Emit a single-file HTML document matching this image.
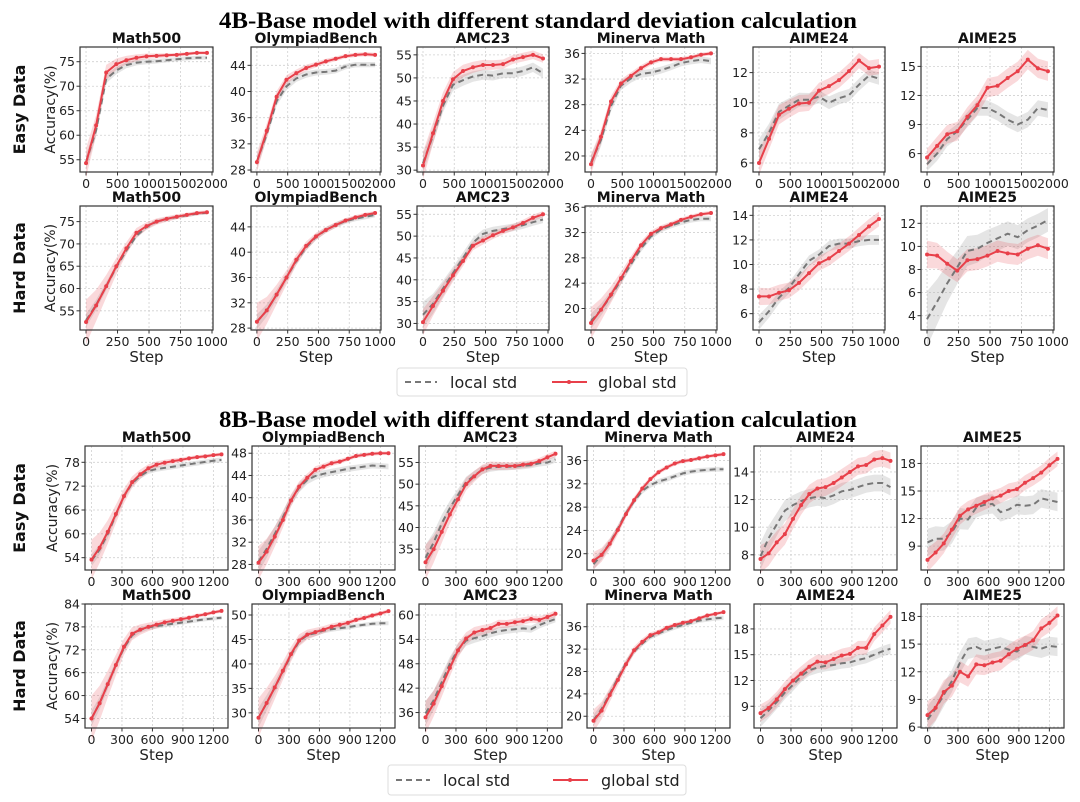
<!DOCTYPE html>
<html><head><meta charset="utf-8"><style>
html,body{margin:0;padding:0;background:#fff;}
svg{display:block;font-family:"DejaVu Sans","Liberation Sans",sans-serif;}
</style></head><body>
<svg id="fig" width="1080" height="802" viewBox="0 0 1080 802" xmlns="http://www.w3.org/2000/svg">
<text x="538" y="28" text-anchor="middle" font-family="Liberation Serif, serif" font-weight="bold" font-size="23" textLength="638" lengthAdjust="spacingAndGlyphs">4B-Base model with different standard deviation calculation</text>
<text x="538" y="427" text-anchor="middle" font-family="Liberation Serif, serif" font-weight="bold" font-size="23" textLength="638" lengthAdjust="spacingAndGlyphs">8B-Base model with different standard deviation calculation</text>
<g>
<rect x="397" y="368" width="290" height="28" rx="3" fill="#fff" stroke="#ddd"/>
<line x1="405" y1="382" x2="437" y2="382" stroke="#777" stroke-width="2" stroke-dasharray="6,4"/>
<text x="450" y="388" font-size="16" fill="#222">local std</text>
<line x1="552" y1="382" x2="587" y2="382" stroke="#e8404a" stroke-width="2"/>
<circle cx="569" cy="382" r="2" fill="#e8404a"/>
<text x="598" y="388" font-size="16" fill="#222">global std</text>
</g>
<g>
<rect x="388" y="765" width="298" height="30" rx="3" fill="#fff" stroke="#ddd"/>
<line x1="396" y1="780" x2="430" y2="780" stroke="#777" stroke-width="2" stroke-dasharray="6,4"/>
<text x="443" y="786" font-size="16" fill="#222">local std</text>
<line x1="553" y1="780" x2="588" y2="780" stroke="#e8404a" stroke-width="2"/>
<circle cx="570" cy="780" r="2" fill="#e8404a"/>
<text x="601" y="786" font-size="16" fill="#222">global std</text>
</g>
</svg>
<script>
// ---- steps ----
const steps4E = [0,160,320,480,640,800,960,1120,1280,1440,1600,1760,1920];
const steps4H = [0,80,160,240,320,400,480,560,640,720,800,880,960];
const steps8 = [0,80,160,240,320,400,480,560,640,720,800,880,960,1040,1120,1200,1280];
const xticks4E = [0,500,1000,1500,2000];
const xticks4H = [0,250,500,750,1000];
const xticks8 = [0,300,600,900,1200];
const titles = ["Math500","OlympiadBench","AMC23","Minerva Math","AIME24","AIME25"];

// ---- 4B easy ----
const e4MathG = [54.3,62,72.8,74.5,75.3,75.8,76.1,76.2,76.3,76.4,76.6,76.8,76.8];
const e4MathL = [54.5,61,71.5,73.2,74.3,74.8,75,75.1,75.3,75.5,75.7,75.8,75.8];
const e4OlyG = [29.2,34,39.2,41.8,42.8,43.6,44.1,44.6,45.0,45.4,45.6,45.7,45.6];
const e4OlyL = [29.3,33.5,38.5,40.8,42,42.6,42.9,43,43.2,43.8,44.1,44.1,44.1];
const e4AmcG = [31,38,45,49.7,51.5,52.3,52.8,52.8,53,54,54.5,55,54.2];
const e4AmcL = [31.5,37.5,44,48.5,49.5,50.3,50.7,50.5,51,51,51.5,52.3,51];
const e4MinG = [18.7,23,28.5,31.3,32.5,33.7,34.6,35.1,35.1,35.1,35.4,35.8,36];
const e4MinL = [19,22.5,27.8,31,32.1,32.8,33,33.4,33.9,34.5,34.8,35,34.8];
const e4A24G = [6,7.6,9.2,9.6,9.95,10,10.8,11.1,11.5,12.1,12.8,12.3,12.4];
const e4A24L = [6.9,8,9.4,9.8,10.2,10.2,10.4,10.0,10.3,10.5,11.2,11.8,11.6];
const e4A25G = [5.6,6.8,8,8.3,9.8,11,12.8,13,13.8,14.5,15.7,14.8,14.5];
const e4A25L = [4.9,6,7.5,8.3,9.5,10.7,10.7,10.2,9.5,9,9.5,10.7,10.5];
// ---- 4B hard ----
const h4MathG = [52.5,56.2,60.5,65,69,72.5,74,75,75.6,76.1,76.5,76.9,77.1];
const h4MathL = [52.8,56.3,60.5,64.8,68.5,71.8,73.8,75,75.6,76,76.4,76.8,77];
const h4OlyG = [29,30.8,33.3,36,38.8,41,42.5,43.5,44.3,45,45.5,45.9,46.2];
const h4OlyL = [29,30.8,33.3,36,38.6,40.8,42.4,43.5,44.3,44.9,45.3,45.6,45.9];
const h4AmcG = [30.3,34,37.5,41,44.3,47.8,49,50.2,51.2,52,53,54.2,55];
const h4AmcL = [32,34.5,38,41.5,45,48.5,50.5,51.2,51.6,52,52.5,53.2,53.8];
const h4MinG = [17.7,19.8,22.2,24.8,27.5,30,31.8,32.7,33.3,34,34.5,34.9,35.1];
const h4MinL = [18,19.8,22,24.5,27,29.5,31.4,32.5,33.1,33.6,34,34.2,34.2];
const h4A24G = [7.4,7.4,7.7,7.9,8.5,9.3,10.1,10.5,11.1,11.7,12.4,13.1,13.7];
const h4A24L = [5.3,6.2,7.3,8.1,9.2,10.3,10.8,11.5,11.7,11.7,11.9,12,12];
const h4A25G = [9.3,9.2,8.5,7.9,8.8,8.9,9.2,9.6,9.4,9.3,9.8,10.1,9.8];
const h4A25L = [3.7,5.2,6.8,8.2,9.6,9.8,10.3,10.7,11.1,10.8,11.4,11.8,12.3];
// ---- 8B easy ----
const e8MathG = [53.5,56.5,60.5,65,69.5,73,75,76.5,77.4,77.9,78.3,78.6,79,79.3,79.5,79.8,80];
const e8MathL = [53.3,56,60,64.8,69.5,72.7,74.6,75.8,76.3,76.6,76.9,77.2,77.5,77.8,78.1,78.4,78.6];
const e8OlyG = [28.3,30.3,33,36,39.5,42,43.6,45,45.6,46.2,46.5,47,47.5,47.7,47.9,48,48];
const e8OlyL = [28.5,30.8,33.5,36.5,39.5,41.8,43.2,43.9,44.3,44.6,44.9,45.2,45.4,45.6,45.8,45.7,45.6];
const e8AmcG = [32,35,39,43,46.5,50,51.8,53.4,54.2,54.2,54.2,54.2,54.5,54.7,55.3,56.2,57];
const e8AmcL = [33,36.5,41,44.5,47.5,50.5,52,53.3,53.8,54,54,54.1,54.2,54.4,54.8,55,55.7];
const e8MinG = [18.8,19.8,21.7,24.1,26.8,29.2,31.2,32.8,34,34.8,35.5,35.9,36.1,36.4,36.7,36.9,37.1];
const e8MinL = [18.2,19.8,21.8,24.3,27,29,30.8,31.8,32.4,32.8,33.3,33.8,34.1,34.3,34.4,34.5,34.5];
const e8A24G = [7.7,8.1,8.9,9.5,10.6,11.6,12.4,12.8,12.9,13.2,13.6,14,14.4,14.5,14.9,15.0,14.8];
const e8A24L = [7.9,9.2,10.2,11.2,11.6,11.9,12.1,12.2,12.1,12.3,12.6,12.7,12.9,13.1,13.2,13.2,12.9];
const e8A25G = [7.5,8.3,9.3,10.8,12.3,13,13.4,13.8,14.2,14.5,15,15.2,15.9,16.4,17,17.8,18.5];
const e8A25L = [9.4,9.8,9.8,10.5,12,11.9,13.2,13.5,13.6,12.7,13,13.5,13.4,13.5,14.2,14,13.8];
// ---- 8B hard ----
const h8MathG = [54,58,63,68,72.8,76.2,77.3,78,78.6,79.2,79.6,80,80.4,80.9,81.3,81.8,82.2];
const h8MathL = [54,58,63,68,72.5,75.8,77.2,77.9,78.2,78.5,78.8,79.1,79.4,79.7,80,80.2,80.4];
const h8OlyG = [29,32,35.2,38.6,42,44.8,46,46.5,47,47.6,48,48.4,49,49.4,49.9,50.3,50.8];
const h8OlyL = [29,32,35.2,38.5,41.8,44.6,45.9,46.3,46.8,47.1,47.3,47.5,47.8,48,48.2,48.3,48.3];
const h8AmcG = [34.8,38.2,42.5,47,51.3,54.2,55.7,56.3,56.8,57.8,57.8,58.2,58.5,59,58.8,59.5,60.3];
const h8AmcL = [35.8,39,43.5,48,51.5,53.7,54.3,54.8,55.5,56,56.3,56.5,56.7,56.5,57.5,58.3,59];
const h8MinG = [19.2,21,23.8,26.5,29.3,31.8,33.3,34.5,35,35.8,36.3,36.7,37,37.5,38,38.3,38.6];
const h8MinL = [19.3,21.3,24,26.8,29.5,31.6,33,34.2,34.8,35.4,35.9,36.3,36.7,37.1,37.3,37.5,37.6];
const h8A24G = [8.2,8.8,9.8,11,12,12.8,13.6,14.2,14.1,14.5,14.9,15.1,15.8,15.8,17.4,18.4,19.4];
const h8A24L = [7.6,8.5,9.5,10.6,11.5,12.5,13.2,13.5,13.7,13.8,14,14.1,14.4,14.6,15,15.4,15.7];
const h8A25G = [7.3,8.1,9.8,10.5,12,11.5,12.8,12.7,13,13.2,13.9,14.5,14.9,15.4,16.7,17.3,18.1];
const h8A25L = [6.8,8,9.5,11,13,14.5,14.7,14.3,14.5,14.7,14.4,14.2,14.9,14.7,14.5,14.8,14.7];

// ---- y tick labels per row ----
const yt4E = [[55,60,65,70,75],[28,32,36,40,44],[30,35,40,45,50,55],[20,24,28,32,36],[6,8,10,12],[6,9,12,15]];
const yt4H = [[55,60,65,70,75],[28,32,36,40,44],[30,35,40,45,50,55],[20,24,28,32,36],[6,8,10,12,14],[4,6,8,10,12]];
const yt8E = [[54,60,66,72,78],[28,32,36,40,44,48],[35,40,45,50,55],[20,24,28,32,36],[8,10,12,14],[9,12,15,18]];
const yt8H = [[54,60,66,72,78,84],[30,35,40,45,50],[36,42,48,54,60],[20,24,28,32,36],[9,12,15,18],[6,9,12,15,18]];
const ylim4E = [[52.5,78],[27.7,46.8],[29.6,56.7],[17.5,37],[5.4,13.7],[4.1,17]];
const ylim4H = [[50.7,78.5],[27.7,47.3],[28.5,56.9],[16.6,36.2],[4.67,14.76],[2.76,13.5]];
const ylim8E = [[50.9,82.1],[27,49.3],[30.2,58.8],[17.2,38.5],[6.9,15.88],[6.4,19.9]];
const ylim8H = [[51.5,84],[26.9,52.25],[32.2,62.7],[17.9,40.06],[6.47,20.9],[5.9,19.35]];
// band half-widths [global start, global end, local start, local end]
const band4E = [[3,0.3,1.5,0.4],[1.5,0.3,1,0.4],[3,0.9,2,1],[1.5,0.3,1.2,0.5],[0.8,0.5,0.7,0.4],[0.9,1,0.7,0.8]];
const band4H = [[5,0.4,1.5,0.4],[3,0.3,1.2,0.4],[3,0.7,3,0.8],[2.5,0.3,1.2,0.4],[0.7,0.6,0.6,0.4],[1.2,0.9,2.4,1]];
const band8E = [[5,0.4,1.5,0.6],[3,0.3,2,0.5],[4,0.7,3,0.7],[1.5,0.3,1,0.4],[1,0.6,1,0.6],[1.3,0.8,1.5,1]];
const band8H = [[6,0.4,2,0.5],[4,0.4,2,0.4],[4,0.8,3,0.8],[2,0.3,1,0.4],[1,0.8,1,0.6],[1.5,1,1.5,1]];

const gridData = [
  {steps:steps4E, xt:xticks4E, yt:yt4E, yl:ylim4E, bd:band4E, G:[e4MathG,e4OlyG,e4AmcG,e4MinG,e4A24G,e4A25G], L:[e4MathL,e4OlyL,e4AmcL,e4MinL,e4A24L,e4A25L]},
  {steps:steps4H, xt:xticks4H, yt:yt4H, yl:ylim4H, bd:band4H, G:[h4MathG,h4OlyG,h4AmcG,h4MinG,h4A24G,h4A25G], L:[h4MathL,h4OlyL,h4AmcL,h4MinL,h4A24L,h4A25L]},
  {steps:steps8, xt:xticks8, yt:yt8E, yl:ylim8E, bd:band8E, G:[e8MathG,e8OlyG,e8AmcG,e8MinG,e8A24G,e8A25G], L:[e8MathL,e8OlyL,e8AmcL,e8MinL,e8A24L,e8A25L]},
  {steps:steps8, xt:xticks8, yt:yt8H, yl:ylim8H, bd:band8H, G:[h8MathG,h8OlyG,h8AmcG,h8MinG,h8A24G,h8A25G], L:[h8MathL,h8OlyL,h8AmcL,h8MinL,h8A24L,h8A25L]}
];
const rowNames = ["4b-easy","4b-hard","8b-easy","8b-hard"];

const NS = "http://www.w3.org/2000/svg";
const svg = document.getElementById("fig");
function mk(tag, attrs, parent){
  const e = document.createElementNS(NS, tag);
  for (const k in attrs) e.setAttribute(k, attrs[k]);
  (parent||svg).appendChild(e);
  return e;
}
const topX = [[80,213],[251,381],[417,549],[585,717],[753,885],[921,1054]];
const botX = [[85,228],[252,395],[419,562],[587,730],[754,897],[921,1064]];
const rowY = [[47,172],[206,330],[446,570],[604,728]];
const TF = 12.5;

gridData.forEach((rd, r) => {
  const cols = r < 2 ? topX : botX;
  const [yT, yB] = rowY[r];
  for (let c = 0; c < 6; c++) {
    const [xL, xR] = cols[c];
    const steps = rd.steps;
    const smax = steps[steps.length-1];
    const xmin = -0.05*smax, xmax = 1.05*smax;
    const [ymin, ymax] = rd.yl[c];
    const sx = v => xL + (v - xmin)/(xmax - xmin)*(xR - xL);
    const sy = v => yB - (v - ymin)/(ymax - ymin)*(yB - yT);
    const g = mk("g", {});
    
    
    mk("rect", {x:xL, y:yT, width:xR-xL, height:yB-yT, fill:"#fff"}, g);
    rd.xt.forEach(t => {
      const x = sx(t);
      const gl = mk("line", {x1:x, x2:x, y1:yT, y2:yB, stroke:"#d0d0d0", "stroke-width":0.8, "stroke-dasharray":"2,2"}, g);
      
      
      mk("line", {x1:x, x2:x, y1:yB, y2:yB+3.5, stroke:"#333", "stroke-width":1}, g);
      const tl = mk("text", {x:x, y:yB+16, "text-anchor":"middle", "font-size":TF, fill:"#222"}, g);
      tl.textContent = t;
      
      
    });
    rd.yt[c].forEach(t => {
      const y = sy(t);
      const gl = mk("line", {x1:xL, x2:xR, y1:y, y2:y, stroke:"#d0d0d0", "stroke-width":0.8, "stroke-dasharray":"2,2"}, g);
      
      
      mk("line", {x1:xL-3.5, x2:xL, y1:y, y2:y, stroke:"#333", "stroke-width":1}, g);
      const tl = mk("text", {x:xL-5, y:y+4.5, "text-anchor":"end", "font-size":TF, fill:"#222"}, g);
      tl.textContent = t;
      
      
    });
    const n = steps.length;
    const bw = (s0, s1, i) => s1 + (s0 - s1)*Math.exp(-i/(n/5));
    const bd = rd.bd[c];
    function band(vals, s0, s1, fill, name){
      const up = vals.map((v,i) => sx(steps[i]).toFixed(1)+","+sy(v+bw(s0,s1,i)).toFixed(1));
      const dn = vals.map((v,i) => sx(steps[i]).toFixed(1)+","+sy(v-bw(s0,s1,i)).toFixed(1)).reverse();
      const p = mk("polygon", {points: up.concat(dn).join(" "), fill: fill}, g);
      
      
    }
    band(rd.L[c], bd[2], bd[3], "rgba(150,150,150,0.25)", "local-std-band");
    band(rd.G[c], bd[0], bd[1], "rgba(232,64,74,0.2)", "global-std-band");
    const lp = mk("polyline", {points: rd.L[c].map((v,i)=>sx(steps[i]).toFixed(1)+","+sy(v).toFixed(1)).join(" "), fill:"none", stroke:"#777", "stroke-width":2, "stroke-dasharray":"6,4"}, g);
    
    
    const gp = mk("polyline", {points: rd.G[c].map((v,i)=>sx(steps[i]).toFixed(1)+","+sy(v).toFixed(1)).join(" "), fill:"none", stroke:"#e8404a", "stroke-width":2}, g);
    
    
    rd.G[c].forEach((v,i) => {
      const pt = mk("circle", {cx:sx(steps[i]), cy:sy(v), r:2, fill:"#e8404a"}, g);
      
      
    });
    const fr = mk("rect", {x:xL, y:yT, width:xR-xL, height:yB-yT, fill:"none", stroke:"#333", "stroke-width":1.2}, g);
    
    
    const tt = mk("text", {x:(xL+xR)/2, y:yT-4, "text-anchor":"middle", "font-size":14, "font-weight":"bold", fill:"#111"}, g);
    tt.textContent = titles[c];
    
    
    if (r === 1 || r === 3) {
      const st = mk("text", {x:(xL+xR)/2, y:yB+32, "text-anchor":"middle", "font-size":15, fill:"#222"}, g);
      st.textContent = "Step";
      
      
    }
    if (c === 0) {
      const cy = (yT+yB)/2;
      const ya = mk("text", {x:0, y:0, transform:"translate(" + (r<2?55:57) + "," + cy + ") rotate(-90)", "text-anchor":"middle", "font-size":14, fill:"#222"}, g);
      ya.textContent = "Accuracy(%)";
      
      
      const rl = mk("text", {x:0, y:0, transform:"translate(25," + cy + ") rotate(-90)", "text-anchor":"middle", "font-size":16, "font-weight":"bold", fill:"#111"}, g);
      rl.textContent = (r % 2 === 0) ? "Easy Data" : "Hard Data";
      
      
    }
  }
});
</script>
</body></html>
